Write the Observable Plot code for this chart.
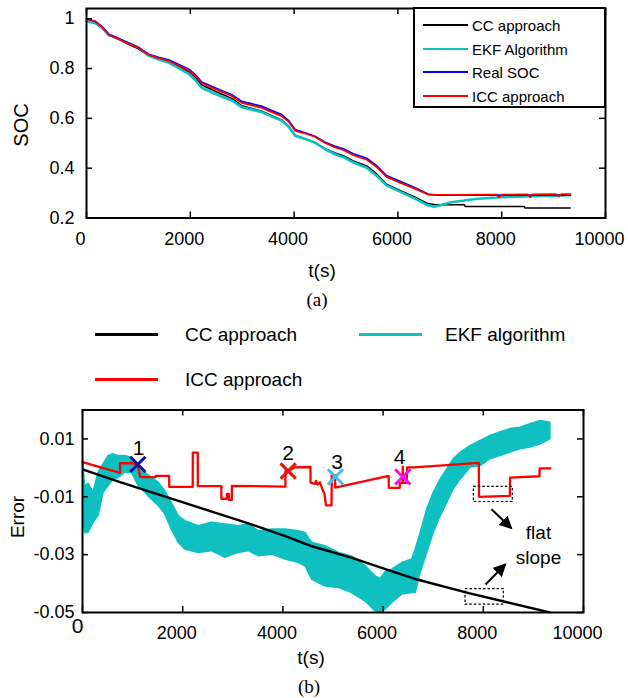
<!DOCTYPE html>
<html><head><meta charset="utf-8">
<script src="https://cdn.jsdelivr.net/npm/d3@7"></script>
<script src="https://cdn.jsdelivr.net/npm/@observablehq/plot@0.6"></script>
<style>
body{margin:0;background:#fff;}
#wrap{position:relative;width:628px;height:698px;overflow:hidden;background:#fff;font-family:"Liberation Sans",Arial,sans-serif;color:#000;}
.abs{position:absolute;white-space:nowrap;line-height:1;}
.c{transform:translate(-50%,-50%);}
.vc{transform:translateY(-50%);}
.serif{font-family:"Liberation Serif","Times New Roman",serif;}
.sw{position:absolute;}
</style></head><body><div id="wrap"></div>
<script>
// ---------- (a) SOC curves ----------
const socT = [0,170,300,430,620,810,1000,1200,1390,1580,1770,1970,2100,2220,2420,2610,2800,2990,3190,3380,3570,3760,3890,4020,4210,4400,4600,4790,4950,5140,5400,5590,5780,6040,6300,6580,6700,
  6800,7000,7280,7300,7500,7900,7950,8000,8430,8450,8500,8550,8600,9050,9100,9150,9320];
const socReal = [1.000,.989,.968,.938,.921,.902,.884,.857,.845,.835,.817,.797,.775,.746,.728,.711,.695,.668,.658,.648,.631,.615,.592,.555,.542,.528,.504,.488,.478,.458,.440,.410,.370,.347,.324,.296,.293,
  .292,.292,.292,.292,.292,.292,.292,.292,.292,.292,.292,.292,.292,.292,.292,.292,.292];
const socICC = [1.000,.990,.967,.935,.918,.899,.884,.855,.842,.831,.812,.792,.770,.741,.723,.706,.690,.662,.652,.642,.625,.609,.587,.550,.539,.526,.501,.483,.473,.452,.434,.404,.365,.342,.320,.294,.293,
  .293,.293,.293,.293,.294,.294,.283,.294,.295,.295,.295,.284,.295,.296,.286,.296,.296];
const socCC = [1.000,.988,.966,.935,.917,.897,.879,.851,.838,.827,.808,.787,.764,.734,.715,.697,.680,.651,.640,.629,.611,.594,.570,.532,.518,.503,.478,.461,.450,.429,.409,.377,.336,.311,.287,.258,.254,
  .253,.253,.253,.246,.246,.246,.246,.246,.246,.240,.240,.240,.240,.240,.240,.240,.240];
const socEKF = [.990,.982,.963,.934,.918,.902,.885,.852,.836,.824,.803,.779,.753,.723,.704,.687,.672,.645,.635,.625,.607,.591,.567,.530,.517,.503,.476,.456,.444,.423,.402,.370,.331,.306,.281,.251,.245,
  .250,.262,.270,.271,.276,.282,.283,.283,.287,.287,.287,.288,.288,.290,.290,.291,.292];
const socTicksX = [0,2000,4000,6000,8000,10000];
const socTicksY = [0.2,0.4,0.6,0.8,1];
const socTickLabelsY = ["0.2","0.4","0.6","0.8","1"];
const socLegendNames = ["CC approach","EKF Algorithm","Real SOC","ICC approach"];

// ---------- (b) Errors ----------
const errCCT = [0,750,3310,4050,4580,5380,6180,6680,7710,8410,9330];
const errCCV = [-0.0005,-0.0049,-0.0192,-0.0236,-0.0271,-0.0311,-0.0358,-0.0386,-0.0433,-0.0462,-0.0500];
const errICCT = [0,750,752,985,1100,1150,1460,1462,1730,1732,2200,2202,2300,2302,2770,2772,2880,2882,2920,2922,2980,2982,4050,4052,4105,4240,4550,4552,4640,4660,4690,4740,4790,4830,4860,4970,4975,5040,5045,6110,6115,6330,6335,6390,6392,6396,6470,6480,6620,7910,7915,8530,8535,9120,9125,9340];
const errICCV = [0.0020,-0.0017,0.0016,0.0016,0.0012,-0.0032,-0.0032,-0.0028,-0.0028,-0.0066,-0.0066,0.0053,0.0053,-0.0063,-0.0063,-0.0107,-0.0107,-0.0090,-0.0090,-0.0111,-0.0111,-0.0062,-0.0065,-0.0011,-0.0011,0.0002,0.0003,-0.0051,-0.0055,-0.0045,-0.0058,-0.0050,-0.0075,-0.0090,-0.0130,-0.0130,-0.0025,-0.0025,-0.0068,-0.0028,-0.0069,-0.0069,-0.0052,-0.0052,0.0004,-0.0052,-0.0052,0.0002,0.0002,0.0017,-0.0100,-0.0097,-0.0034,-0.0029,-0.0002,-0.0002];
const ekfT  = [0,50,120,220,320,420,520,620,720,850,985,1120,1250,1380,1520,1650,1780,1920,2050,2320,2580,2850,3110,3320,3520,3790,4050,4320,4450,4580,4850,5120,5380,5650,5850,5950,6050,6180,6380,6580,6650,6750,6880,7010,7150,7280,7410,7550,7750,7950,8140,8340,8540,8740,8940,9140,9340];
const ekfLo = [-0.0155,-0.0225,-0.0225,-0.0190,-0.0167,-0.0086,-0.0063,-0.0040,-0.0035,-0.0017,-0.0017,-0.0063,-0.0086,-0.0109,-0.0132,-0.0160,-0.0213,-0.0259,-0.0282,-0.0294,-0.0288,-0.0311,-0.0294,-0.0288,-0.0306,-0.0300,-0.0317,-0.0329,-0.0340,-0.0386,-0.0410,-0.0415,-0.0433,-0.0462,-0.0496,-0.0500,-0.0490,-0.0467,-0.0438,-0.0433,-0.0433,-0.0363,-0.0294,-0.0225,-0.0167,-0.0121,-0.0074,-0.0040,0.0001,0.0006,0.0030,0.0041,0.0053,0.0064,0.0070,0.0081,0.0099];
const ekfHi = [0.0053,-0.0063,-0.0055,-0.0086,-0.0017,0.0012,0.0041,0.0047,0.0040,0.0041,0.0035,0.0012,-0.0017,-0.0034,-0.0051,-0.0080,-0.0121,-0.0167,-0.0184,-0.0202,-0.0190,-0.0196,-0.0202,-0.0196,-0.0219,-0.0213,-0.0213,-0.0219,-0.0225,-0.0259,-0.0271,-0.0294,-0.0306,-0.0340,-0.0375,-0.0385,-0.0360,-0.0352,-0.0329,-0.0317,-0.0282,-0.0225,-0.0144,-0.0086,-0.0040,-0.0005,0.0030,0.0053,0.0076,0.0093,0.0110,0.0122,0.0134,0.0139,0.0151,0.0162,0.0156];
const markT = [1104,4105,5050,6393];
const markV = [0.0012,-0.0011,-0.0031,-0.0031];
const markColor = ["#10109c","#f01010","#44bbf0","#f010f0"];
const markText = ["1","2","3","4"];
const markTextT = [1118,4105,5083,6327];
const markTextV = [0.0067,0.0050,0.0020,0.0037];
const boxT1 = [7811,7645], boxT2 = [8589,8410], boxV1 = [-0.0066,-0.0419], boxV2 = [-0.0118,-0.0473];
const arrT1 = [8164,8044], arrV1 = [-0.0143,-0.0403], arrT2 = [8563,8443], arrV2 = [-0.0209,-0.0333];
const noteText = ["flat","slope"], noteT = [9102,9102], noteV = [-0.0225,-0.0311];
const errTicksX = [0,2000,4000,6000,8000,10000];
const errTicksY = [0.01,-0.01,-0.03,-0.05];
const errTickLabelsY = ["0.01","-0.01","-0.03","-0.05"];
const errLegendNames = ["CC approach","EKF algorithm","ICC approach"];

// ---------- build ----------
const CYAN = "#0fc0c0";
const FONT = "'Liberation Sans', Arial, sans-serif";
const wrap = document.getElementById("wrap");
function add(html, cls, left, top, size, extra=""){
  const d = document.createElement("div");
  d.className = "abs " + cls;
  d.style.left = left + "px"; d.style.top = top + "px"; d.style.fontSize = size + "px";
  if (extra) d.style.cssText += extra;
  d.textContent = html; wrap.appendChild(d); return d;
}
function swatch(x1, x2, y, color, w){
  const s = document.createElement("div");
  s.className = "sw";
  s.style.cssText = `left:${x1}px;top:${y - w/2}px;width:${x2-x1}px;height:${w}px;background:${color};`;
  wrap.appendChild(s);
}

const socData = socT.map((t,i)=>({t, real:socReal[i], icc:socICC[i], cc:socCC[i], ekf:socEKF[i]}));
const A = {h:262, top:8, bottom:217.5, left:86, right:605};
const aIH = A.bottom - A.top, aIW = A.right - A.left;
const TK = 6;
const p1 = Plot.plot({
  width: 628, height: A.h,
  marginTop: A.top, marginBottom: A.h - A.bottom, marginLeft: A.left, marginRight: 628 - A.right,
  x: {domain: [0, 10000]},
  y: {domain: [0.2, 1.041]},
  style: {fontFamily: FONT, fontSize: "18px", color: "black", background: "transparent", overflow: "visible"},
  marks: [
    Plot.line(socData, {x:"t", y:"cc", stroke:"black", strokeWidth:1.5}),
    Plot.line(socData, {x:"t", y:"ekf", stroke:CYAN, strokeWidth:2.6}),
    Plot.line(socData, {x:"t", y:"real", stroke:"#0000ff", strokeWidth:1.7}),
    Plot.line(socData, {x:"t", y:"icc", stroke:"#ff0000", strokeWidth:1.7}),
    Plot.tickX(socTicksX, {x:d=>d, insetTop: aIH - TK, stroke:"black", strokeWidth:1.5}),
    Plot.tickX(socTicksX, {x:d=>d, insetBottom: aIH - TK, stroke:"black", strokeWidth:1.5}),
    Plot.tickY(socTicksY, {y:d=>d, insetRight: aIW - TK, stroke:"black", strokeWidth:1.5}),
    Plot.tickY(socTicksY, {y:d=>d, insetLeft: aIW - TK, stroke:"black", strokeWidth:1.5}),
    Plot.frame({stroke:"black", strokeWidth:2}),
    Plot.axisX(socTicksX, {tickSize:0, tickPadding:14, dx:-6, label:null, tickFormat:d=>String(d)}),
    Plot.axisY(socTicksY, {tickSize:0, tickPadding:12, label:null, tickFormat:d=>socTickLabelsY[socTicksY.indexOf(d)]})
  ]
});
const h1 = document.createElement("div");
h1.style.cssText = "position:absolute;left:0;top:0;";
h1.appendChild(p1); wrap.appendChild(h1);

const lg = document.createElement("div");
lg.style.cssText = "position:absolute;left:413px;top:7px;width:189px;height:97px;border:2px solid #000;background:#fff;";
wrap.appendChild(lg);
const aCols = ["#000000", CYAN, "#0000ff", "#ff0000"];
const aY = [25, 49, 72, 96];
socLegendNames.forEach((n,i)=>{
  swatch(423, 468, aY[i], aCols[i], i===1 ? 2 : 1.6);
  add(n, "vc", 472, aY[i], 15);
});
add("SOC", "c", 21, 125, 20, "transform:translate(-50%,-50%) rotate(-90deg);");
add("t(s)", "c", 322, 270, 19);
add("(a)", "c serif", 317, 299, 19);

swatch(95, 158, 334, "#000000", 3);
add(errLegendNames[0], "vc", 185, 334, 19);
swatch(359, 422, 334, CYAN, 3);
add(errLegendNames[1], "vc", 445, 334, 19);
swatch(95, 158, 379, "#ff0000", 3);
add(errLegendNames[2], "vc", 185, 379, 19);

const B = {y0:400, h:250, top:9.5, bottom:212, left:82, right:583};
const bIH = B.bottom - B.top, bIW = B.right - B.left;
const ccData = errCCT.map((t,i)=>({t, v:errCCV[i]}));
const iccData = errICCT.map((t,i)=>({t, v:errICCV[i]}));
const ekfData = ekfT.map((t,i)=>({t, lo:ekfLo[i], hi:ekfHi[i]}));
const marks = markT.map((t,i)=>({t, v:markV[i], c:markColor[i]}));
const markLabels = markText.map((s,i)=>({s, t:markTextT[i], v:markTextV[i]}));
const boxes = boxT1.map((t,i)=>({t1:t, t2:boxT2[i], v1:boxV1[i], v2:boxV2[i]}));
const arrows = arrT1.map((t,i)=>({t1:t, v1:arrV1[i], t2:arrT2[i], v2:arrV2[i]}));
const notes = noteText.map((s,i)=>({s, t:noteT[i], v:noteV[i]}));
const p2 = Plot.plot({
  width: 628, height: B.h,
  marginTop: B.top, marginBottom: B.h - B.bottom, marginLeft: B.left, marginRight: 628 - B.right,
  x: {domain: [0, 10000]},
  y: {domain: [-0.05, 0.02]},
  style: {fontFamily: FONT, fontSize: "18px", color: "black", background: "transparent", overflow: "visible"},
  marks: [
    Plot.areaY(ekfData, {x:"t", y1:"lo", y2:"hi", fill:CYAN, stroke:CYAN, strokeWidth:1.5, clip:true}),
    Plot.line(ccData, {x:"t", y:"v", stroke:"black", strokeWidth:2.4, clip:true}),
    Plot.line(iccData, {x:"t", y:"v", stroke:"#ff0000", strokeWidth:2.3}),
    Plot.dot(marks, {x:"t", y:"v", symbol:"times", r:7, stroke:"c", strokeWidth:3}),
    Plot.text(markLabels, {x:"t", y:"v", text:"s", fontSize:21}),
    Plot.rect(boxes, {x1:"t1", x2:"t2", y1:"v1", y2:"v2", fill:"none", stroke:"black", strokeWidth:1.2, strokeDasharray:"2.5,2"}),
    Plot.link(arrows, {x1:"t1", y1:"v1", x2:"t2", y2:"v2", stroke:"black", strokeWidth:2}),
    Plot.text(notes, {x:"t", y:"v", text:"s", fontSize:19}),
    Plot.tickX(errTicksX, {x:d=>d, insetTop: bIH - TK, stroke:"black", strokeWidth:1.5}),
    Plot.tickX(errTicksX, {x:d=>d, insetBottom: bIH - TK, stroke:"black", strokeWidth:1.5}),
    Plot.tickY(errTicksY, {y:d=>d, insetRight: bIW - TK, stroke:"black", strokeWidth:1.5}),
    Plot.tickY(errTicksY, {y:d=>d, insetLeft: bIW - TK, stroke:"black", strokeWidth:1.5}),
    Plot.frame({stroke:"black", strokeWidth:2}),
    Plot.axisX(errTicksX, {tickSize:0, tickPadding:14, dx:-6, label:null, tickFormat:d=> d===0 ? "" : String(d)}),
    Plot.text([0], {x:d=>d, frameAnchor:"bottom", dy:20, dx:-5, text:d=>String(d), fontSize:21}),
    Plot.axisY(errTicksY, {tickSize:0, tickPadding:8, label:null, tickFormat:d=>errTickLabelsY[errTicksY.indexOf(d)]})
  ]
});
const s2 = d3.select(p2);
s2.append("defs").append("marker")
  .attr("id","ahead").attr("viewBox","0 0 10 10").attr("refX",9).attr("refY",5)
  .attr("markerWidth",6.5).attr("markerHeight",6.5).attr("orient","auto").attr("markerUnits","strokeWidth")
  .append("path").attr("d","M0,0L10,5L0,10Z").attr("fill","black");
s2.selectAll('g[aria-label="link"] path').attr("marker-end","url(#ahead)");
const h2 = document.createElement("div");
h2.style.cssText = `position:absolute;left:0;top:${B.y0}px;`;
h2.appendChild(p2); wrap.appendChild(h2);

add("Error", "c", 17, 517, 19, "transform:translate(-50%,-50%) rotate(-90deg);");
add("t(s)", "c", 311, 657, 19);
add("(b)", "c serif", 309, 686, 19);
</script></body></html>
